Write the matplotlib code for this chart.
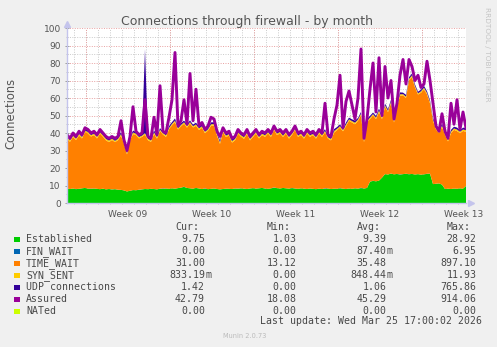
import numpy as np
import matplotlib
matplotlib.use("Agg")
import matplotlib.pyplot as plt
from matplotlib.patches import Rectangle

# ---------------- data ----------------
title = "Connections through firewall - by month"
y_label = "Connections"
series_names = ["Established", "FIN_WAIT", "TIME_WAIT", "SYN_SENT",
                "UDP connections", "Assured", "NATed"]
series_colors = ["#00CC00", "#0066B3", "#FF8000", "#FFCC00",
                 "#330099", "#990099", "#CCFF00"]
week_labels = ["Week 09", "Week 10", "Week 11", "Week 12", "Week 13"]

established = [
    8.2, 8.0, 8.3, 7.9, 8.1, 8.4, 8.6, 8.2, 8.0, 8.3,
    8.1, 7.9, 8.2, 7.8, 8.0, 7.7, 7.9, 7.6, 7.5, 7.2,
    6.6, 7.0, 7.4, 7.3, 7.5, 7.8, 8.0, 7.9, 8.1, 8.0,
    7.8, 8.2, 8.0, 8.3, 8.1, 8.4, 8.2, 8.5, 8.8, 9.2,
    8.6, 8.4, 8.2, 8.6, 8.3, 8.0, 8.2, 7.9, 8.1, 8.3,
    8.0, 7.8, 8.0, 8.2, 8.1, 8.0, 8.3, 8.1, 8.4, 8.2,
    8.0, 8.3, 8.5, 8.2, 8.4, 8.6, 8.3, 8.1, 8.4, 8.7,
    8.5, 8.3, 8.6, 8.4, 8.2, 8.5, 8.3, 8.1, 8.4, 8.2,
    8.0, 8.3, 8.1, 7.9, 8.2, 8.0, 8.1, 8.3, 8.0, 8.2,
    8.1, 8.4, 8.2, 8.0, 8.3, 8.1, 8.4, 8.2, 8.5, 8.3,
    8.6, 12.2, 12.6, 12.4, 12.8, 14.5, 16.5, 16.3, 16.8, 16.4,
    16.6, 16.2, 16.5, 16.7, 16.4, 16.6, 16.3, 16.5, 16.2, 16.4,
    16.6, 16.8, 10.8, 11.0, 11.2, 10.5, 8.0, 8.2, 8.0, 8.3,
    8.1, 8.4, 8.2, 9.75]

fin_wait = [
    0.0, 0.0, 0.0, 0.1, 0.0, 0.0, 0.0, 0.0, 0.2, 0.0,
    0.0, 0.0, 0.0, 0.0, 0.0, 0.1, 0.0, 0.0, 0.0, 0.0,
    0.0, 0.0, 0.0, 0.0, 0.1, 0.0, 0.0, 0.0, 0.0, 0.0,
    0.0, 0.0, 0.3, 0.0, 0.0, 0.0, 0.0, 0.0, 0.0, 0.1,
    0.0, 0.0, 0.0, 0.0, 0.0, 0.0, 0.2, 0.0, 0.0, 0.0,
    0.0, 0.0, 0.0, 0.0, 0.0, 0.0, 0.0, 0.1, 0.0, 0.0,
    0.0, 0.0, 0.0, 0.0, 0.0, 0.0, 0.0, 0.0, 0.0, 0.2,
    0.0, 0.0, 0.0, 0.0, 0.0, 0.1, 0.0, 0.0, 0.0, 0.0,
    0.0, 0.0, 0.0, 0.0, 0.0, 0.0, 0.3, 0.0, 0.0, 0.0,
    0.0, 0.1, 0.0, 0.0, 0.0, 0.0, 0.0, 0.0, 0.2, 0.0,
    0.0, 0.0, 0.1, 0.0, 0.0, 0.0, 0.0, 0.0, 0.0, 0.0,
    0.0, 0.2, 0.0, 0.0, 0.1, 0.0, 0.0, 0.0, 0.0, 0.0,
    0.1, 0.0, 0.0, 0.0, 0.0, 0.0, 0.0, 0.0, 0.0, 0.0,
    0.0, 0.0, 0.0, 0.0]

time_wait = [
    28.6, 27.0, 29.5, 28.0, 30.5, 28.5, 32.0, 31.5, 29.8, 30.5,
    28.8, 31.8, 29.7, 28.0, 26.8, 28.2, 26.9, 28.3, 31.0, 26.6,
    21.2, 28.8, 32.0, 31.5, 29.3, 30.0, 31.0, 28.0, 26.8, 31.5,
    29.0, 33.0, 30.8, 29.5, 34.0, 36.0, 38.0, 33.5, 35.0, 36.0,
    34.5, 37.0, 35.0, 35.5, 33.5, 35.0, 31.5, 33.5, 36.0, 36.0,
    30.5, 26.0, 32.5, 29.5, 30.5, 26.5, 27.5, 31.5, 29.5, 28.5,
    31.5, 27.5, 29.3, 31.5, 28.5, 30.2, 29.5, 31.7, 29.4, 33.0,
    30.3, 31.5, 29.2, 31.4, 28.6, 30.3, 33.5, 29.7, 30.4, 28.6,
    31.8, 29.5, 30.7, 28.9, 31.6, 29.8, 32.0, 28.5, 27.8, 32.0,
    33.5, 34.6, 32.8, 36.0, 38.7, 37.9, 36.6, 38.8, 41.5, 26.5,
    37.4, 35.8, 37.4, 35.6, 39.2, 33.5, 38.5, 35.7, 40.2, 29.6,
    38.4, 44.8, 45.0, 43.3, 53.6, 55.4, 49.7, 45.5, 46.8, 48.6,
    45.4, 40.2, 36.2, 31.0, 28.8, 33.0, 31.0, 27.0, 32.0, 33.5,
    33.0, 31.5, 33.0, 31.0]

syn_sent = [
    0.8, 0.9, 0.7, 0.8, 0.9, 0.8, 0.7, 0.9, 0.8, 0.8,
    0.9, 0.7, 0.8, 0.8, 0.9, 0.8, 0.7, 0.8, 0.9, 0.8,
    0.7, 0.8, 0.9, 0.8, 0.8, 0.7, 0.9, 0.8, 0.8, 0.9,
    0.8, 0.7, 0.8, 0.9, 0.8, 0.8, 0.9, 0.7, 0.8, 0.8,
    0.9, 0.8, 0.7, 0.8, 0.9, 0.8, 0.8, 0.7, 0.9, 0.8,
    0.8, 0.9, 0.7, 0.8, 0.8, 0.9, 0.8, 0.7, 0.8, 0.9,
    0.8, 0.8, 0.7, 0.9, 0.8, 0.8, 0.9, 0.7, 0.8, 0.8,
    0.9, 0.8, 0.7, 0.8, 0.9, 0.8, 0.8, 0.7, 0.9, 0.8,
    0.8, 0.9, 0.7, 0.8, 0.8, 0.9, 0.8, 0.7, 0.8, 0.9,
    0.8, 0.8, 0.7, 0.9, 0.8, 0.8, 0.9, 0.7, 0.8, 0.8,
    0.9, 0.8, 0.7, 0.8, 0.9, 0.8, 0.8, 0.7, 0.9, 0.8,
    0.8, 0.9, 0.7, 0.8, 0.8, 0.9, 0.8, 0.7, 0.8, 0.9,
    0.8, 0.8, 0.7, 0.9, 0.8, 0.8, 0.9, 0.7, 0.8, 0.8,
    0.9, 0.8, 0.8, 0.83]

udp = [
    1.0, 1.1, 0.9, 1.0, 1.2, 1.0, 0.9, 1.1, 1.0, 1.0,
    1.1, 0.9, 1.0, 1.0, 1.2, 1.0, 0.9, 1.0, 1.1, 1.0,
    0.9, 1.0, 1.1, 1.0, 1.0, 0.9, 48.0, 1.0, 1.0, 1.1,
    1.0, 0.9, 1.0, 1.1, 1.0, 1.0, 1.2, 0.9, 1.0, 1.0,
    1.1, 1.0, 0.9, 1.0, 1.1, 1.0, 1.0, 0.9, 1.1, 1.0,
    1.0, 1.1, 0.9, 1.0, 1.0, 1.2, 1.0, 0.9, 1.0, 1.1,
    1.0, 1.0, 0.9, 1.1, 1.0, 1.0, 1.2, 0.9, 1.0, 1.0,
    1.1, 1.0, 0.9, 1.0, 1.1, 1.0, 1.0, 0.9, 1.1, 1.0,
    1.0, 1.1, 0.9, 1.0, 1.0, 1.1, 1.0, 0.9, 1.0, 1.1,
    1.0, 1.0, 0.9, 1.1, 1.0, 1.0, 1.2, 0.9, 1.0, 1.0,
    1.1, 1.0, 0.9, 1.0, 1.1, 1.0, 1.0, 0.9, 1.1, 1.0,
    1.0, 1.1, 0.9, 1.0, 1.0, 1.1, 1.0, 0.9, 1.0, 1.1,
    1.0, 1.0, 0.9, 1.1, 1.0, 1.0, 1.2, 0.9, 1.0, 1.0,
    1.1, 1.0, 1.0, 1.42]

assured = [
    39, 37, 40, 38, 41, 39, 43, 42, 40, 41,
    39, 42, 40, 38, 37, 38, 37, 38, 47, 36,
    30, 38, 55, 41, 39, 40, 59, 38, 37, 49,
    39, 67, 41, 40, 49, 59, 86, 44, 47, 59,
    45, 74, 47, 65, 44, 46, 42, 44, 49, 48,
    41, 38, 43, 40, 41, 37, 38, 42, 40, 39,
    42, 38, 40, 42, 39, 41, 40, 42, 40, 44,
    41, 42, 40, 42, 39, 41, 44, 40, 41, 39,
    42, 40, 41, 39, 42, 40, 57, 39, 38, 48,
    56, 73, 43, 58, 64, 56, 48, 60, 88, 37,
    48, 65, 80, 52, 83, 50, 78, 60, 70, 48,
    57, 73, 82, 68, 82, 78, 70, 73, 66, 68,
    81, 70, 57, 44, 41, 51, 41, 37, 57, 45,
    59, 42, 52, 42.79]

nated = [
    0.0, 0.0, 0.0, 0.0, 0.0, 0.0, 0.0, 0.0, 0.0, 0.0,
    0.0, 0.0, 0.0, 0.0, 0.0, 0.0, 0.0, 0.0, 0.0, 0.0,
    0.0, 0.0, 0.0, 0.0, 0.0, 0.0, 0.0, 0.0, 0.0, 0.0,
    0.0, 0.0, 0.0, 0.0, 0.0, 0.0, 0.0, 0.0, 0.0, 0.0,
    0.0, 0.0, 0.0, 0.0, 0.0, 0.0, 0.0, 0.0, 0.0, 0.0,
    0.0, 0.0, 0.0, 0.0, 0.0, 0.0, 0.0, 0.0, 0.0, 0.0,
    0.0, 0.0, 0.0, 0.0, 0.0, 0.0, 0.0, 0.0, 0.0, 0.0,
    0.0, 0.0, 0.0, 0.0, 0.0, 0.0, 0.0, 0.0, 0.0, 0.0,
    0.0, 0.0, 0.0, 0.0, 0.0, 0.0, 0.0, 0.0, 0.0, 0.0,
    0.0, 0.0, 0.0, 0.0, 0.0, 0.0, 0.0, 0.0, 0.0, 0.0,
    0.0, 0.0, 0.0, 0.0, 0.0, 0.0, 0.0, 0.0, 0.0, 0.0,
    0.0, 0.0, 0.0, 0.0, 0.0, 0.0, 0.0, 0.0, 0.0, 0.0,
    0.0, 0.0, 0.0, 0.0, 0.0, 0.0, 0.0, 0.0, 0.0, 0.0,
    0.0, 0.0, 0.0, 0.0]

cur_vals = [9.75, 0.0, 31.00, 0.83319, 1.42, 42.79, 0.0]
min_vals = [1.03, 0.0, 13.12, 0.0, 0.0, 18.08, 0.0]
avg_vals = [9.39, 0.08740, 35.48, 0.84844, 1.06, 45.29, 0.0]
max_vals = [28.92, 6.95, 897.10, 11.93, 765.86, 914.06, 0.0]
last_update = "Last update: Wed Mar 25 17:00:02 2026"
footer = "Munin 2.0.73"
watermark = "RRDTOOL / TOBI OETIKER"

# ---------------- layout ----------------
W, H = 497, 347
SAMPLE_DAYS = 0.25
WEEK_START = 1.583          # first week boundary, in days from left edge

fig = plt.figure(figsize=(W / 100, H / 100), dpi=100)
fig.patch.set_facecolor("#F0F0F0")

L, R, T, B = 67, 466, 28, 203
ax = fig.add_axes([L / W, 1 - B / H, (R - L) / W, (B - T) / H])
ax.set_facecolor("white")

x = np.arange(len(assured)) * SAMPLE_DAYS
ax.set_xlim(0, x[-1])
ax.set_ylim(0, 100)

# grid (under data)
grey = "#CACACA"
red = "#E8A0A0"
dots = (0, (1, 1.5))
for d in np.arange(WEEK_START % 1, x[-1], 1.0):
    ax.axvline(d, color=grey, lw=0.7, ls=dots, zorder=0.5)
week_bounds = [WEEK_START + 7 * k for k in range(len(week_labels))]
for w in week_bounds:
    ax.axvline(w, color=red, lw=0.7, ls=dots, zorder=0.6)
for yv in range(5, 100, 10):
    ax.axhline(yv, color=grey, lw=0.7, ls=dots, zorder=0.5)
for yv in range(10, 101, 10):
    ax.axhline(yv, color=red, lw=0.7, ls=dots, zorder=0.6)

ax.stackplot(x, established, fin_wait, time_wait, syn_sent, udp,
             colors=series_colors[:5], linewidth=0, zorder=2)
ax.plot(x, assured, color=series_colors[5], lw=2.1, zorder=3,
        solid_joinstyle="round")
ax.plot(x, nated, color=series_colors[6], lw=0.7, zorder=3)

# axes styling
for s in ("top", "right"):
    ax.spines[s].set_visible(False)
for s in ("left", "bottom"):
    ax.spines[s].set_color("#C4C4EC")
    ax.spines[s].set_linewidth(1.0)
    ax.spines[s].set_zorder(4)

ax.set_yticks(range(0, 101, 10))
ax.set_yticks(range(5, 100, 10), minor=True)
ax.set_xticks([w + 3.5 for w in week_bounds])
ax.set_xticklabels(week_labels)
ax.set_xticks(np.arange(WEEK_START % 1, x[-1], 1.0), minor=True)
ax.tick_params(axis="y", which="major", length=3, width=0.7, direction="inout",
               color="#999999", labelsize=6.5, labelcolor="#555555", pad=3)
ax.tick_params(axis="y", which="minor", length=2, width=0.6, direction="inout",
               color="#BBBBBB")
ax.tick_params(axis="x", which="major", length=0, labelsize=6.5,
               labelcolor="#555555", pad=5)
ax.tick_params(axis="x", which="minor", length=2, width=0.6, direction="inout",
               color="#BBBBBB")

# axis arrows
ax.plot([0], [1 + 4.5 / (B - T)], marker="^", ms=4.5, color="#C4C4EC",
        transform=ax.transAxes, clip_on=False, zorder=5)
ax.plot([(470.5 - L) / (R - L)], [0], marker=">", ms=4.5, color="#C4C4EC",
        transform=ax.transAxes, clip_on=False, zorder=5)

def px(xp, yp):
    return xp / W, 1 - yp / H

txt = "#555555"
fig.text(*px(247, 24.5), title, ha="center", va="baseline",
         fontsize=9, color=txt, family="DejaVu Sans")
fig.text(*px(11, 113), y_label, ha="center", va="center", rotation=90,
         fontsize=8.3, color=txt, family="DejaVu Sans")
fig.text(*px(487, 54), watermark, ha="center", va="center", rotation=270,
         fontsize=5.3, color="#C4C4C4", family="DejaVu Sans")

# legend
mono = dict(family="DejaVu Sans Mono", fontsize=7.1, color="#484848")
col_ends = [205, 296.7, 386.7, 476.7]
headers = ["Cur:", "Min:", "Avg:", "Max:"]
row0 = 227.4
step = 11.95
for h, ce in zip(headers, col_ends):
    fig.text(*px(ce - 6, row0), h, ha="right", va="center", **mono)

def fmt(v):
    if 0 < abs(v) < 1:
        return f"{v * 1000:.2f}", "m"
    return f"{v:.2f}", ""

for k, name in enumerate(series_names):
    yk = row0 + step * (k + 1)
    fig.add_artist(Rectangle(px(14, yk + 3), 5.5 / W, 5.5 / H,
                             transform=fig.transFigure,
                             facecolor=series_colors[k], edgecolor="none"))
    fig.text(*px(26, yk), name, ha="left", va="center", **mono)
    for vals, ce in zip([cur_vals, min_vals, avg_vals, max_vals], col_ends):
        num, suf = fmt(vals[k])
        fig.text(*px(ce, yk), num, ha="right", va="center", **mono)
        if suf:
            fig.text(*px(ce, yk), suf, ha="left", va="center", **mono)

fig.text(*px(482, row0 + step * 8 - 1.5), last_update, ha="right",
         va="center", **mono)
fig.text(*px(245, 336), footer, ha="center", va="center",
         fontsize=4.8, color="#BBBBBB", family="DejaVu Sans")

fig.savefig("out.png", dpi=100, facecolor=fig.get_facecolor())
